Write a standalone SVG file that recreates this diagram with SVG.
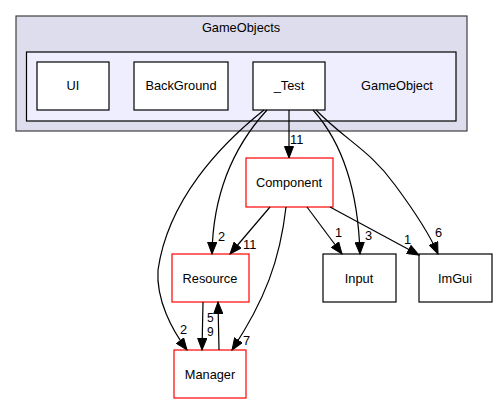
<svg xmlns="http://www.w3.org/2000/svg" width="497" height="404" viewBox="0 0 497 404">
<defs>
<marker id="ah" markerUnits="userSpaceOnUse" markerWidth="13" markerHeight="10" refX="12" refY="5" orient="auto">
<path d="M0.5,0.5 L12,5 L0.5,9.5 z" fill="#000" stroke="#000" stroke-width="1"/>
</marker>
<style>
text{font-family:"Liberation Sans",Arial,sans-serif;font-size:12.8px;fill:#000}
.c{text-anchor:middle}
.s{font-size:12px}
.n{fill:#fff;stroke:#000;stroke-width:1.2}
.r{fill:#fff;stroke:#ff0000;stroke-width:1.2}
.e{fill:none;stroke:#000;stroke-width:1.2;marker-end:url(#ah)}
</style>
</defs>
<rect width="497" height="404" fill="#fff"/>
<g id="cluster_GameObjects">
<rect x="16" y="16" width="451" height="115" fill="#ddddee" stroke="#404040" stroke-width="1.2"/>
<text class="c" x="241" y="32">GameObjects</text>
</g>
<g id="cluster_GameObject">
<rect x="26.5" y="52" width="429.5" height="69" fill="#eeeeff" stroke="#000" stroke-width="1.2"/>
<text class="c" x="397" y="90">GameObject</text>
</g>
<g id="node_UI"><rect class="n" x="37" y="62" width="72" height="48"/><text class="c" x="73" y="90">UI</text></g>
<g id="node_BackGround"><rect class="n" x="134" y="62" width="94" height="48"/><text class="c" x="181" y="90">BackGround</text></g>
<g id="node_Test"><rect class="n" x="253" y="62" width="72" height="48"/><text class="c" x="289" y="90">_Test</text></g>
<g id="node_Component"><rect class="r" x="246" y="158" width="87" height="49"/><text class="c" x="289" y="187">Component</text></g>
<g id="node_Resource"><rect class="r" x="172" y="254" width="77" height="48"/><text class="c" x="210" y="283">Resource</text></g>
<g id="node_Manager"><rect class="r" x="174" y="350" width="72" height="48"/><text class="c" x="210" y="379">Manager</text></g>
<g id="node_Input"><rect class="n" x="323" y="254" width="73" height="48"/><text class="c" x="359" y="283">Input</text></g>
<g id="node_ImGui"><rect class="n" x="419" y="254" width="73" height="48"/><text class="c" x="455" y="283">ImGui</text></g>
<g id="edges">
<path class="e" d="M289,110 L289,158"/>
<text x="290" y="144">11</text>
<path class="e" d="M267,110 C235,145 213,190 212,254"/>
<text x="218" y="241">2</text>
<path class="e" d="M264,110 C220,145 168,200 158,270 C156,300 172,330 187,350"/>
<text x="180" y="334">2</text>
<path class="e" d="M313,110 C340,140 358,185 360,254"/>
<text x="365" y="240">3</text>
<path class="e" d="M316,110 C345,140 370,150 395,185 C415,212 430,235 438,254"/>
<text x="435" y="237">6</text>
<path class="e" d="M270,207 L230,254"/>
<text x="243" y="249">11</text>
<path class="e" d="M286,207 C280,260 265,300 232,350"/>
<text x="243" y="345">7</text>
<path class="e" d="M307,207 L342,254"/>
<text x="335" y="237">1</text>
<path class="e" d="M330,207 L419,255"/>
<text x="404" y="244">1</text>
<path class="e" d="M203,302 L202,350"/>
<text class="s" x="207" y="336">9</text>
<path class="e" d="M219,350 L218,302"/>
<text class="s" x="207" y="322">5</text>
</g>
</svg>
